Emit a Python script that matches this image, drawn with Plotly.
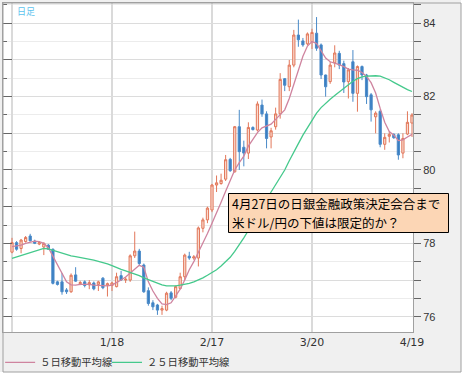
import plotly.graph_objects as go

# ---- data ----
x_tickpos = [0, 22, 44, 66, 88]
x_ticklabels = ['', '1/18', '2/17', '3/20', '4/19']
y_tickvals = [76, 77, 78, 79, 80, 81, 82, 83, 84]
y_ticktext = ['76', '', '78', '', '80', '', '82', '', '84']

opens = [77.76, 78.02, 77.86, 78.05, 78.20, 78.06, 77.98, 77.90, 77.95, 77.84,
         76.95, 76.95, 76.73, 76.68, 77.14, 76.90, 76.95, 76.87, 76.92, 76.88,
         77.05, 76.86, 76.85, 76.82, 77.12, 77.00, 77.00, 77.66, 77.79, 77.41,
         76.71, 76.38, 76.32, 76.18, 76.18, 76.65, 76.53, 76.77, 77.09, 77.65,
         77.60, 77.60, 78.41, 78.64, 78.91, 79.59, 79.63, 79.75, 80.29, 79.95,
         81.18, 80.62, 80.46, 81.16, 81.09, 81.77, 81.53, 80.90, 81.18, 81.53,
         82.49, 82.27, 82.86, 83.68, 83.52, 83.44, 83.50, 83.73, 83.41, 82.59,
         82.41, 82.92, 83.18, 82.90, 82.41, 82.95, 82.09, 82.82, 82.59, 82.05,
         81.45, 81.60, 80.70, 80.92, 80.97, 80.96, 80.46, 80.98, 81.28]
highs = [78.15, 78.06, 78.12, 78.20, 78.26, 78.10, 78.06, 78.03, 77.98, 77.86,
         76.98, 77.19, 76.78, 77.18, 77.35, 76.98, 76.99, 77.00, 76.96, 76.98,
         77.08, 76.93, 76.95, 77.20, 77.25, 77.08, 77.70, 78.32, 77.85, 77.45,
         76.80, 76.45, 76.35, 76.30, 76.68, 76.70, 76.85, 77.20, 77.72, 77.77,
         77.68, 78.46, 78.70, 79.00, 79.62, 79.85, 79.90, 80.41, 80.33, 81.20,
         81.64, 80.80, 81.30, 81.19, 81.87, 81.92, 81.60, 81.15, 81.70, 82.64,
         82.50, 83.00, 83.82, 84.10, 83.60, 83.75, 83.85, 84.17, 83.45, 82.60,
         82.95, 83.40, 83.25, 82.98, 82.78, 83.27, 82.85, 82.85, 82.62, 82.10,
         81.60, 81.65, 81.00, 81.05, 81.00, 81.00, 81.00, 81.60, 81.55]
lows = [77.73, 77.80, 77.73, 78.02, 78.05, 77.98, 77.95, 77.68, 77.82, 76.88,
        76.85, 76.60, 76.62, 76.65, 76.95, 76.86, 76.80, 76.75, 76.72, 76.70,
        76.75, 76.55, 76.70, 76.80, 76.98, 76.92, 76.95, 77.60, 77.40, 76.65,
        76.30, 76.18, 76.05, 76.05, 76.15, 76.45, 76.50, 76.75, 77.00, 77.55,
        77.55, 77.37, 78.30, 78.55, 78.85, 79.40, 79.60, 79.70, 79.95, 79.93,
        80.00, 80.10, 80.30, 81.08, 81.05, 81.45, 80.59, 80.59, 81.10, 81.40,
        82.15, 82.15, 82.80, 83.36, 83.36, 83.40, 83.30, 83.25, 82.48, 82.00,
        82.35, 82.80, 82.75, 82.10, 81.95, 81.86, 81.59, 82.45, 81.80, 81.32,
        81.00, 80.62, 80.55, 80.75, 80.85, 80.28, 80.32, 80.95, 80.90]
closes = [78.02, 77.84, 78.09, 78.16, 78.07, 78.00, 78.02, 78.00, 77.84, 76.91,
          76.88, 76.68, 76.68, 77.13, 76.97, 76.93, 76.85, 76.93, 76.76, 76.95,
          76.79, 76.90, 76.92, 77.09, 77.00, 77.02, 77.66, 77.79, 77.45, 76.68,
          76.36, 76.27, 76.18, 76.22, 76.64, 76.50, 76.82, 77.09, 77.68, 77.60,
          77.63, 78.42, 78.64, 78.96, 79.59, 79.65, 79.72, 80.28, 79.98, 81.18,
          80.50, 80.46, 81.16, 81.10, 81.80, 81.53, 80.86, 81.07, 81.53, 82.47,
          82.31, 82.86, 83.68, 83.55, 83.41, 83.71, 83.75, 83.32, 82.59, 82.27,
          82.86, 83.19, 82.86, 82.40, 82.73, 82.09, 82.82, 82.59, 82.00, 81.64,
          81.55, 80.70, 80.89, 80.97, 80.88, 80.41, 80.86, 81.30, 81.50]
ma5 = [77.91, 77.93, 77.95, 78.00, 78.04, 78.06, 78.05, 78.00, 77.88, 77.65,
       77.40, 77.15, 76.95, 76.87, 76.86, 76.88, 76.89, 76.88, 76.86, 76.85,
       76.84, 76.84, 76.86, 76.92, 77.00, 77.08, 77.18, 77.30, 77.40, 77.35,
       76.95, 76.70, 76.50, 76.35, 76.33, 76.38, 76.55, 76.75, 77.00, 77.28,
       77.50, 77.75, 78.00, 78.27, 78.55, 78.82, 79.12, 79.42, 79.73, 80.00,
       80.20, 80.38, 80.65, 80.85, 81.02, 81.15, 81.20, 81.25, 81.38, 81.52,
       81.64, 81.95, 82.35, 82.73, 83.10, 83.38, 83.50, 83.45, 83.25, 83.05,
       82.95, 82.92, 82.87, 82.82, 82.75, 82.73, 82.72, 82.66, 82.55, 82.38,
       82.10, 81.68, 81.30, 81.05, 80.95, 80.80, 80.82, 80.90, 80.97]
ma25 = [77.59, 77.63, 77.67, 77.71, 77.75, 77.79, 77.83, 77.86, 77.85, 77.81,
        77.76, 77.72, 77.68, 77.66, 77.64, 77.62, 77.59, 77.56, 77.54, 77.51,
        77.48, 77.44, 77.39, 77.33, 77.29, 77.25, 77.21, 77.17, 77.12, 77.06,
        77.01, 76.96, 76.91, 76.87, 76.84, 76.83, 76.84, 76.86, 76.88, 76.91,
        76.95, 77.00, 77.06, 77.13, 77.20, 77.28, 77.38, 77.50, 77.62, 77.78,
        77.95, 78.15, 78.35, 78.55, 78.80, 79.00, 79.20, 79.40, 79.60, 79.80,
        80.00, 80.25, 80.50, 80.72, 80.95, 81.15, 81.35, 81.55, 81.70, 81.82,
        81.93, 82.03, 82.13, 82.23, 82.33, 82.42, 82.49, 82.54, 82.56, 82.57,
        82.57, 82.56, 82.52, 82.46, 82.39, 82.32, 82.25, 82.19, 82.14]
days = list(range(len(closes)))

name_ma5 = '５日移動平均線'
name_ma25 = '２５日移動平均線'
note_lines = ['4月27日の日銀金融政策決定会合まで', '米ドル/円の下値は限定的か？']
corner_text = '日足'

# ---- figure ----
W, H = 464, 377
L, R, T, B = 3, 51, 3, 45
pw, ph = W - L - R, H - T - B
y_range = [75.583, 84.553]
x_range = [-1.98, 88.22]


def px_x(x):
    return (x - L) / pw


def px_y(y):
    return (H - B - y) / ph


fig = go.Figure()
fig.add_trace(go.Candlestick(
    x=days, open=opens, high=highs, low=lows, close=closes,
    increasing=dict(line=dict(color='#e2775a', width=1), fillcolor='#f9dace'),
    decreasing=dict(line=dict(color='#4a8ac8', width=1), fillcolor='#3a7ec2'),
    showlegend=False, hoverinfo='skip'))
fig.add_trace(go.Scatter(x=days, y=ma5, mode='lines', name=name_ma5, legend='legend',
                         line=dict(color='#cf849f', width=1.3)))
fig.add_trace(go.Scatter(x=days, y=ma25, mode='lines', name=name_ma25, legend='legend2',
                         line=dict(color='#45c98c', width=1.3)))
# empty trace so the left tick axis exists
fig.add_trace(go.Scatter(x=[], y=[], yaxis='y2', showlegend=False, hoverinfo='skip'))

legend_font = dict(family='Noto Sans CJK JP', size=10.3, color='#333333')
fig.update_layout(
    width=W, height=H,
    margin=dict(l=L, r=R, t=T, b=B, autoexpand=False),
    paper_bgcolor='#f0f0f0', plot_bgcolor='#ffffff',
    font=dict(family='DejaVu Sans', size=11, color='#333333'),
    xaxis=dict(range=x_range, tickmode='array', tickvals=x_tickpos, ticktext=x_ticklabels,
               showgrid=True, gridcolor='#dadada', gridwidth=1.5, ticks='',
               showline=True, linecolor='#a0a0a0', linewidth=1, mirror=True,
               zeroline=False, rangeslider=dict(visible=False), automargin=False,
               tickfont=dict(family='DejaVu Sans', size=11, color='#333333')),
    yaxis=dict(range=y_range, side='right', tickmode='array', tickvals=y_tickvals,
               ticktext=y_ticktext, ticks='outside', ticklen=7, tickcolor='#666666',
               showgrid=True, gridcolor='#dcdcdc', gridwidth=1, automargin=False,
               minor=dict(dtick=0.5, tick0=76, ticks='outside', ticklen=7,
                          tickcolor='#666666', showgrid=True, gridcolor='#ececec'),
               showline=True, linecolor='#a0a0a0', linewidth=1, mirror=True,
               zeroline=False,
               tickfont=dict(family='Liberation Sans', size=11, color='#333333')),
    yaxis2=dict(range=y_range, overlaying='y', side='left', tickmode='linear',
                tick0=76, dtick=1, ticks='inside', ticklen=9, tickcolor='#666666',
                showticklabels=False, showgrid=False, zeroline=False, automargin=False,
                minor=dict(dtick=0.5, tick0=76, ticks='inside', ticklen=4,
                           tickcolor='#666666', showgrid=False)),
    legend=dict(orientation='h', x=-0.007, xanchor='left', y=-0.048, yanchor='top',
                bgcolor='rgba(0,0,0,0)', itemwidth=30, font=legend_font),
    legend2=dict(orientation='h', x=px_x(107), xanchor='left', y=-0.048, yanchor='top',
                 bgcolor='rgba(0,0,0,0)', itemwidth=30, font=legend_font),
    showlegend=True,
)

# outer frame
fx1 = px_x(461)
fy0 = px_y(372)
fig.add_shape(type='rect', xref='paper', yref='paper', x0=fx1, x1=1.2,
              y0=-0.2, y1=1.02, fillcolor='#ffffff', line=dict(width=0))
fig.add_shape(type='rect', xref='paper', yref='paper', x0=-0.02, x1=1.2,
              y0=-0.2, y1=fy0, fillcolor='#ffffff', line=dict(width=0))
fig.add_shape(type='rect', xref='paper', yref='paper', x0=0, x1=fx1,
              y0=fy0, y1=1, fillcolor='rgba(0,0,0,0)', line=dict(color='#a0a0a0', width=1))

fig.add_annotation(xref='paper', yref='paper', x=px_x(15), y=px_y(12),
                   xanchor='left', yanchor='middle', text=corner_text, showarrow=False,
                   font=dict(family='Noto Sans CJK JP', size=9, color='#5cc3ee'))

# note box
fig.add_shape(type='rect', xref='paper', yref='paper', x0=px_x(228.5), x1=px_x(448.5),
              y0=px_y(232.5), y1=px_y(193.5), fillcolor='#fcd6b5',
              line=dict(color='#000000', width=1))
for line_text, yc in zip(note_lines, [203.5, 222.5]):
    fig.add_annotation(xref='paper', yref='paper', x=px_x(231), y=px_y(yc),
                       xanchor='left', yanchor='middle', align='left', text=line_text,
                       showarrow=False, borderpad=0,
                       font=dict(family='Noto Sans CJK JP', size=12.5, color='#000000'))

fig.write_html('out.html', config={'displayModeBar': False},
               post_script="document.body.style.margin='0';document.body.style.overflow='hidden';")
